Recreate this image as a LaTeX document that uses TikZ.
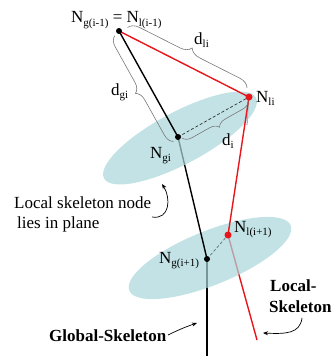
\documentclass[tikz,border=0pt]{standalone}
\usepackage{fontspec}
\setmainfont{Liberation Serif}
\usetikzlibrary{decorations.pathreplacing,arrows.meta,shapes.geometric}
\definecolor{planecol}{RGB}{169,214,218}
\definecolor{skred}{RGB}{232,22,28}
\definecolor{brgray}{RGB}{120,120,120}
\definecolor{dashgray}{RGB}{95,115,118}
\newcommand{\sbx}[1]{\raisebox{-0.45ex}{\fontsize{11}{11}\selectfont #1}}
\tikzset{
 plane/.style={ellipse, draw=none, fill=planecol, fill opacity=0.7, inner sep=0},
 gline/.style={line width=1.4pt, black},
 lline/.style={line width=1.4pt, skred},
 gdot/.style={circle, fill=black, inner sep=0, minimum size=6pt},
 ldot/.style={circle, fill=skred, inner sep=0, minimum size=7pt},
 dimbrace/.style={decorate, draw=brgray, line width=0.6pt},
 lbl/.style={anchor=base west, inner sep=0, font=\fontsize{17}{20}\selectfont},
 blbl/.style={anchor=base west, inner sep=0, font=\fontsize{17}{20}\selectfont\bfseries},
 arr/.style={-{Stealth[length=5pt,width=4pt]}, line width=0.7pt},
 dashln/.style={dash pattern=on 3pt off 2pt, line width=0.7pt}
}
\begin{document}
\begin{tikzpicture}[x=1pt,y=-1pt]
\useasboundingbox (0,0) rectangle (333,356);
% skeleton points
\coordinate (G0) at (119,31);
\coordinate (Gi) at (178,137);
\coordinate (Li) at (249,97);
\coordinate (G1) at (207,259);
\coordinate (L1) at (228,235);
\coordinate (Gend) at (207,356);
\coordinate (Lend) at (257,340);
\coordinate (Lproj) at (247,125);
% segments below the lower plane
\draw[gline] (G1) -- (Gend);
\draw[lline] (L1) -- (Lend);
% lower plane
\node[plane, minimum width=174pt, minimum height=54pt, rotate=22] (P2) at (210,258) {};
% segments between planes
\draw[gline] (Gi) -- (G1);
\draw[dashln, draw=dashgray] (G1) -- (L1);
\draw[brgray, line width=0.7pt] (Li) -- (Lproj);
% upper plane
\node[plane, minimum width=172pt, minimum height=52pt, rotate=28] (P1) at (180,138) {};
% top segments
\draw[lline] (Li) -- (L1);
\draw[gline] (G0) -- (Gi);
\draw[lline] (G0) -- (Li);
\draw[dashln, draw=black!80] (Gi) -- (Li);
% braces
\draw[dimbrace, decoration={brace, amplitude=11pt}] (127.5,27.5) -- (247,88);
\draw[dimbrace, decoration={brace, amplitude=10pt}] (173.6,141.4) -- (114.7,35.7);
\draw[dimbrace, decoration={brace, amplitude=9pt}] (248.3,100.8) -- (182.1,138.1);
% dots
\node[gdot] (nG0) at (G0) {};
\node[gdot] (nGi) at (Gi) {};
\node[gdot] (nG1) at (G1) {};
\node[ldot] (nLi) at (Li) {};
\node[ldot] (nL1) at (L1) {};
% labels
\node[lbl] (tG0) at (71,23) {N\sbx{g(i-1)} = N\sbx{l(i-1)}};
\node[lbl] (tLi) at (256,102) {N\sbx{li}};
\node[lbl] (tGi) at (150,158) {N\sbx{gi}};
\node[lbl] (tL1) at (234,232) {N\sbx{l(i+1)}};
\node[lbl] (tG1) at (159,263) {N\sbx{g(i+1)}};
\node[lbl] (tdl) at (194,44) {d\sbx{li}};
\node[lbl] (tdg) at (111,95) {d\sbx{gi}};
\node[lbl] (tdi) at (222,145) {d\sbx{i}};
\node[lbl] (tloc1) at (14,208) {Local skeleton node};
\node[lbl] (tloc2) at (17,228) {lies in plane};
\node[blbl] (tls1) at (270,291) {Local-};
\node[blbl] (tls2) at (269,312) {Skeleton};
\node[blbl] (tgs) at (49,341) {Global-Skeleton};
% pointer arrows
\coordinate (a1s) at (152,217);
\coordinate (a1e) at (162,184);
\coordinate (a2s) at (302,318);
\coordinate (a2e) at (263,333);
\coordinate (a3s) at (168,335);
\coordinate (a3e) at (197,323);
\draw[arr] (a1s) .. controls (170,220) and (171,198) .. (a1e);
\draw[arr] (a2s) .. controls (300,334) and (285,334) .. (a2e);
\draw[arr] (a3s) .. controls (178,330) and (188,326) .. (a3e);
\end{tikzpicture}
\end{document}
